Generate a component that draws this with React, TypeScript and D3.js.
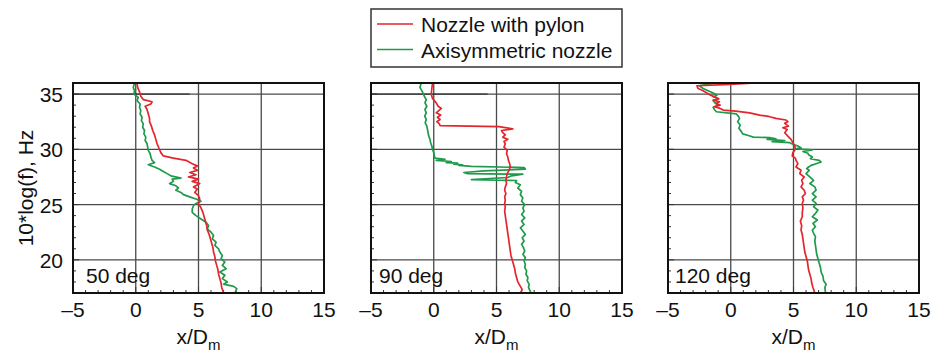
import React from "react";
import * as d3 from "d3";

// ---------- data: [10*log(f), x/Dm] ----------
const panelTitles = ["50 deg", "90 deg", "120 deg"];
const seriesNames = ["Nozzle with pylon", "Axisymmetric nozzle"];
const xTicks = [-5, 0, 5, 10, 15];
const xTickLabels = ["\u20135", "0", "5", "10", "15"];
const yTicks = [20, 25, 30, 35];

const red50: [number, number][] = [
  [36.0, 0.1], [35.6, 0.15], [35.2, 0.3], [34.8, 0.4], [34.5, 0.6], [34.3, 1.3], [34.1, 1.2], [33.9, 0.75],
  [33.6, 0.9], [33.2, 1.0], [32.8, 1.1], [32.5, 1.1], [32.1, 1.25], [31.7, 1.35], [31.3, 1.5], [30.9, 1.6],
  [30.5, 1.7], [30.1, 1.85], [29.7, 2.0], [29.4, 2.2], [29.2, 3.0], [29.0, 4.0], [28.7, 4.5], [28.5, 4.9],
  [28.3, 4.6], [28.1, 4.9], [27.9, 4.3], [27.7, 4.8], [27.5, 4.2], [27.3, 5.0], [27.1, 4.5], [26.9, 5.1],
  [26.6, 4.6], [26.4, 4.9], [26.1, 4.7], [25.8, 5.0], [25.5, 5.1], [25.1, 5.0], [24.7, 5.2], [24.3, 5.35],
  [23.9, 5.45], [23.5, 5.55], [23.1, 5.65], [22.7, 5.7], [22.3, 5.85], [21.9, 5.95], [21.5, 6.05], [21.1, 6.15],
  [20.7, 6.2], [20.3, 6.3], [19.9, 6.35], [19.5, 6.45], [19.1, 6.55], [18.7, 6.6], [18.3, 6.7], [17.9, 6.8],
  [17.5, 6.85], [17.0, 7.0],
];
const green50: [number, number][] = [
  [36.0, -0.1], [35.6, -0.2], [35.3, -0.1], [35.0, -0.15], [34.7, 0.2], [34.4, 0.1], [34.1, 0.35], [33.8, 0.3],
  [33.5, 0.4], [33.2, 0.35], [32.9, 0.5], [32.6, 0.45], [32.3, 0.6], [32.0, 0.55], [31.7, 0.7], [31.4, 0.65],
  [31.1, 0.8], [30.8, 0.75], [30.5, 0.9], [30.2, 0.95], [29.9, 1.0], [29.6, 1.15], [29.3, 1.2], [29.0, 1.3],
  [28.8, 1.5], [28.6, 1.0], [28.4, 1.5], [28.2, 1.9], [28.0, 2.2], [27.8, 2.5], [27.6, 2.8], [27.4, 3.6],
  [27.3, 2.9], [27.1, 3.0], [26.9, 2.7], [26.7, 3.2], [26.5, 3.4], [26.3, 3.2], [26.1, 3.6], [25.9, 3.8],
  [25.7, 4.3], [25.5, 4.8], [25.3, 5.2], [25.1, 4.8], [24.9, 4.6], [24.6, 4.5], [24.3, 4.5], [24.0, 4.8],
  [23.7, 5.2], [23.4, 5.6], [23.1, 5.8], [22.8, 5.7], [22.5, 6.0], [22.2, 6.2], [21.9, 6.1], [21.6, 6.4],
  [21.3, 6.3], [21.0, 6.6], [20.7, 6.7], [20.4, 6.9], [20.1, 6.8], [19.8, 7.1], [19.5, 6.9], [19.2, 7.2],
  [18.9, 6.7], [18.6, 7.1], [18.3, 6.9], [18.0, 7.3], [17.8, 7.0], [17.6, 7.8], [17.4, 8.05], [17.0, 7.9],
];
const red90: [number, number][] = [
  [36.0, -0.1], [35.5, -0.15], [35.0, -0.2], [34.6, -0.1], [34.2, 0.2], [33.9, 0.35], [33.7, 0.6], [33.5, 0.4],
  [33.3, 0.2], [33.1, 0.55], [32.9, 0.3], [32.7, 0.5], [32.5, 0.25], [32.3, 0.45], [32.15, 0.5], [32.05, 5.2],
  [31.85, 6.3], [31.7, 5.4], [31.5, 5.5], [31.3, 5.7], [31.1, 5.5], [30.9, 5.9], [30.7, 5.6], [30.5, 5.7],
  [30.2, 5.6], [29.9, 5.85], [29.6, 5.8], [29.3, 5.9], [29.0, 5.95], [28.7, 6.05], [28.4, 6.1], [28.1, 6.0],
  [27.8, 5.85], [27.5, 5.8], [27.2, 5.75], [26.9, 5.8], [26.6, 5.7], [26.3, 5.65], [26.0, 5.75], [25.7, 5.65],
  [25.4, 5.7], [25.1, 5.65], [24.8, 5.7], [24.4, 5.65], [24.0, 5.7], [23.6, 5.75], [23.2, 5.8], [22.8, 5.85],
  [22.4, 5.9], [22.0, 5.95], [21.6, 6.0], [21.2, 6.05], [20.8, 6.1], [20.4, 6.15], [20.0, 6.25], [19.6, 6.35],
  [19.2, 6.45], [18.8, 6.5], [18.4, 6.6], [18.0, 6.7], [17.6, 6.9], [17.3, 7.05], [17.0, 6.9],
];
const green90: [number, number][] = [
  [36.0, -1.0], [35.6, -1.1], [35.2, -0.9], [34.8, -0.75], [34.5, -0.6], [34.2, -0.7], [33.9, -0.55], [33.6, -0.7],
  [33.3, -0.6], [33.0, -0.72], [32.7, -0.6], [32.4, -0.68], [32.1, -0.55], [31.8, -0.5], [31.5, -0.45], [31.2, -0.4],
  [30.9, -0.3], [30.6, -0.25], [30.3, -0.15], [30.0, -0.1], [29.7, 0.0], [29.4, 0.05], [29.2, 0.1], [29.1, 0.9],
  [29.0, 0.2], [28.9, 1.4], [28.8, 1.0], [28.75, 1.9], [28.65, 1.6], [28.6, 2.3], [28.55, 2.0], [28.45, 3.0],
  [28.35, 7.2], [28.2, 7.3], [28.05, 4.0], [27.9, 2.4], [27.8, 2.7], [27.75, 7.1], [27.6, 6.2], [27.45, 5.9],
  [27.25, 3.0], [27.18, 6.6], [27.0, 6.5], [26.8, 6.9], [26.5, 6.7], [26.2, 7.0], [25.9, 6.9], [25.6, 7.1],
  [25.3, 7.0], [25.0, 7.25], [24.7, 7.1], [24.4, 7.2], [24.1, 7.0], [23.8, 7.25], [23.5, 7.0], [23.2, 7.2],
  [22.9, 6.9], [22.6, 7.1], [22.3, 7.3], [22.0, 7.05], [21.7, 7.2], [21.4, 7.0], [21.1, 7.15], [20.8, 7.25],
  [20.5, 7.1], [20.2, 7.3], [19.9, 7.2], [19.6, 7.3], [19.3, 7.25], [19.0, 7.4], [18.7, 7.35], [18.4, 7.5],
  [18.1, 7.45], [17.8, 7.6], [17.5, 7.55], [17.0, 7.75],
];
const red120: [number, number][] = [
  [36.0, 2.0], [35.85, -0.5], [35.75, -2.7], [35.5, -2.6], [35.3, -2.2], [35.1, -1.9], [34.9, -1.6], [34.7, -1.2],
  [34.55, -0.95], [34.45, -1.4], [34.3, -0.9], [34.15, -1.2], [34.0, -0.85], [33.85, -1.3], [33.7, -0.85], [33.55, -0.6],
  [33.45, 0.4], [33.3, 1.5], [33.1, 2.3], [32.95, 3.1], [32.8, 3.6], [32.65, 4.4], [32.5, 4.55], [32.35, 4.3],
  [32.1, 4.6], [31.95, 4.15], [31.8, 4.5], [31.5, 4.3], [31.2, 4.55], [30.9, 4.8], [30.6, 4.95], [30.3, 5.1],
  [30.0, 5.15], [29.7, 4.95], [29.4, 4.9], [29.2, 5.15], [29.0, 5.2], [28.7, 5.35], [28.4, 5.2], [28.1, 5.6],
  [27.8, 5.5], [27.5, 5.85], [27.2, 5.65], [26.9, 5.75], [26.6, 5.6], [26.3, 5.85], [26.0, 5.95], [25.7, 5.7],
  [25.4, 5.8], [25.1, 5.7], [24.7, 5.75], [24.3, 5.7], [23.9, 5.7], [23.5, 5.55], [23.1, 5.65], [22.7, 5.6],
  [22.3, 5.7], [21.9, 5.75], [21.5, 5.8], [21.1, 5.85], [20.7, 5.9], [20.3, 6.0], [19.9, 6.1], [19.5, 6.15],
  [19.1, 6.2], [18.7, 6.3], [18.3, 6.4], [17.9, 6.45], [17.5, 6.55], [17.0, 6.7],
];
const green120: [number, number][] = [
  [36.0, -1.1], [35.9, -1.8], [35.75, -2.5], [35.5, -2.2], [35.3, -1.8], [35.1, -1.4], [34.9, -1.1], [34.75, -1.4],
  [34.6, -1.0], [34.4, -1.4], [34.2, -1.25], [34.0, -1.0], [33.8, -1.4], [33.6, -1.3], [33.4, -1.15], [33.2, 0.45],
  [33.0, 0.6], [32.8, 0.7], [32.5, 0.55], [32.2, 0.75], [31.9, 0.65], [31.6, 0.85], [31.4, 0.95], [31.25, 1.4],
  [31.1, 1.8], [31.05, 3.1], [30.95, 3.6], [30.9, 2.9], [30.8, 4.3], [30.7, 3.3], [30.6, 4.7], [30.45, 4.95],
  [30.3, 5.35], [30.15, 5.6], [30.05, 5.2], [29.95, 6.5], [29.8, 5.75], [29.65, 6.15], [29.5, 6.2], [29.3, 6.5],
  [29.15, 6.35], [29.0, 7.05], [28.85, 7.2], [28.7, 6.8], [28.55, 6.4], [28.4, 6.2], [28.25, 6.05], [28.1, 6.25],
  [27.8, 6.0], [27.5, 6.3], [27.2, 6.6], [26.9, 6.3], [26.6, 6.7], [26.3, 6.8], [26.0, 6.5], [25.7, 6.8],
  [25.4, 6.5], [25.1, 6.8], [24.8, 6.6], [24.5, 6.95], [24.2, 6.75], [23.9, 6.5], [23.6, 6.9], [23.3, 6.55],
  [23.0, 6.75], [22.7, 6.5], [22.4, 6.6], [22.1, 6.75], [21.7, 6.7], [21.3, 6.75], [20.9, 6.8], [20.5, 6.85],
  [20.1, 6.95], [19.7, 7.05], [19.3, 7.15], [18.9, 7.2], [18.5, 7.35], [18.1, 7.4], [17.8, 7.6], [17.5, 7.5],
  [17.0, 7.55],
];

const panelData = [
  { title: panelTitles[0], red: red50, green: green50 },
  { title: panelTitles[1], red: red90, green: green90 },
  { title: panelTitles[2], red: red120, green: green120 },
];

// ---------- layout / style ----------
const W = 934;
const H = 353;
const panelLefts = [73, 371, 668];
const titleOffsets = [13, 8, 7];
const PW = 251;
const TOP = 83;
const PH = 210;
const RED = "#e3262d";
const GREEN = "#1f9a4b";
const FONT = "'Liberation Sans', Arial, Helvetica, sans-serif";
const FS = 21;

function Panel({ idx }: { idx: number }) {
  const left = panelLefts[idx];
  const d = panelData[idx];
  const x = d3.scaleLinear().domain([-5, 15]).range([left, left + PW]);
  const y = d3.scaleLinear().domain([17, 36]).range([TOP + PH, TOP]);
  const line = d3
    .line<[number, number]>()
    .x((p) => x(p[1]))
    .y((p) => y(p[0]));
  const clipId = `clip${idx}`;
  const minorY = d3.range(17, 37, 1);
  const minorX = d3.range(-5, 16, 1);
  return (
    <g>
      <defs>
        <clipPath id={clipId}>
          <rect x={left} y={TOP} width={PW} height={PH} />
        </clipPath>
      </defs>
      <rect x={left} y={TOP} width={PW} height={PH} fill="#fff" />
      {/* grid */}
      {xTicks.slice(1, -1).map((t) => (
        <line key={"gx" + t} x1={x(t)} x2={x(t)} y1={TOP} y2={TOP + PH} stroke="#4a4a4a" strokeWidth={1.3} />
      ))}
      {yTicks.map((t) => (
        <line key={"gy" + t} x1={left} x2={left + PW} y1={y(t)} y2={y(t)} stroke="#4a4a4a" strokeWidth={1.3} />
      ))}
      {idx < 2 && (
        <line x1={x(-5)} x2={x(4.3)} y1={y(35)} y2={y(35)} stroke="#222" strokeWidth={1} />
      )}
      {/* minor ticks */}
      {minorY.map((t) => (
        <line key={"my" + t} x1={left} x2={left + (t % 5 === 0 ? 6 : 3)} y1={y(t)} y2={y(t)} stroke="#333" strokeWidth={1} />
      ))}
      {minorX.map((t) => (
        <line key={"mx" + t} x1={x(t)} x2={x(t)} y1={TOP + PH} y2={TOP + PH - (t % 5 === 0 ? 6 : 3)} stroke="#333" strokeWidth={1} />
      ))}
      {/* data */}
      <g clipPath={`url(#${clipId})`}>
        <path d={line(d.green) || ""} fill="none" stroke={GREEN} strokeWidth={1.7} strokeLinejoin="round" />
        <path d={line(d.red) || ""} fill="none" stroke={RED} strokeWidth={1.7} strokeLinejoin="round" />
      </g>
      {/* frame */}
      <rect x={left} y={TOP} width={PW} height={PH} fill="none" stroke="#111" strokeWidth={2} />
      {/* panel title */}
      <text x={left + titleOffsets[idx]} y={TOP + PH - 10} fontSize={FS} fontFamily={FONT} fill="#111">
        {d.title}
      </text>
      {/* x tick labels */}
      {xTicks.map((t, i) => (
        <text key={"xt" + t} x={x(t)} y={TOP + PH + 24} fontSize={FS} fontFamily={FONT} textAnchor="middle" fill="#111">
          {xTickLabels[i]}
        </text>
      ))}
      {/* x label */}
      <text x={left + PW / 2} y={344} fontSize={FS} fontFamily={FONT} textAnchor="middle" fill="#111">
        x/D
        <tspan fontSize={15} dy={6}>m</tspan>
      </text>
      {/* y tick labels (first panel only) */}
      {idx === 0 &&
        yTicks.map((t) => (
          <text key={"yt" + t} x={left - 10} y={y(t) + 8} fontSize={FS} fontFamily={FONT} textAnchor="end" fill="#111">
            {t}
          </text>
        ))}
    </g>
  );
}

export default function App() {
  const lx = panelLefts[1];
  return (
    <svg
      width={W}
      height={H}
      viewBox={`0 0 ${W} ${H}`}
      style={{ position: "absolute", left: 0, top: 0, background: "#fff" }}
    >
      <rect width={W} height={H} fill="#fff" />
      {[0, 1, 2].map((i) => (
        <Panel key={i} idx={i} />
      ))}
      <text
        transform={`translate(33, ${TOP + PH / 2}) rotate(-90)`}
        fontSize={FS}
        fontFamily={FONT}
        textAnchor="middle"
        fill="#111"
      >
        10*log(f), Hz
      </text>
      {/* legend */}
      <rect x={lx} y={9} width={PW} height={58} fill="#fff" stroke="#333" strokeWidth={1.5} />
      <line x1={lx + 6} x2={lx + 42} y1={24} y2={24} stroke={RED} strokeWidth={1.5} />
      <text x={lx + 50} y={31.5} fontSize={FS} fontFamily={FONT} fill="#111">
        {seriesNames[0]}
      </text>
      <line x1={lx + 6} x2={lx + 42} y1={49.5} y2={49.5} stroke={GREEN} strokeWidth={1.5} />
      <text x={lx + 50} y={57.5} fontSize={FS} fontFamily={FONT} fill="#111">
        {seriesNames[1]}
      </text>
    </svg>
  );
}
